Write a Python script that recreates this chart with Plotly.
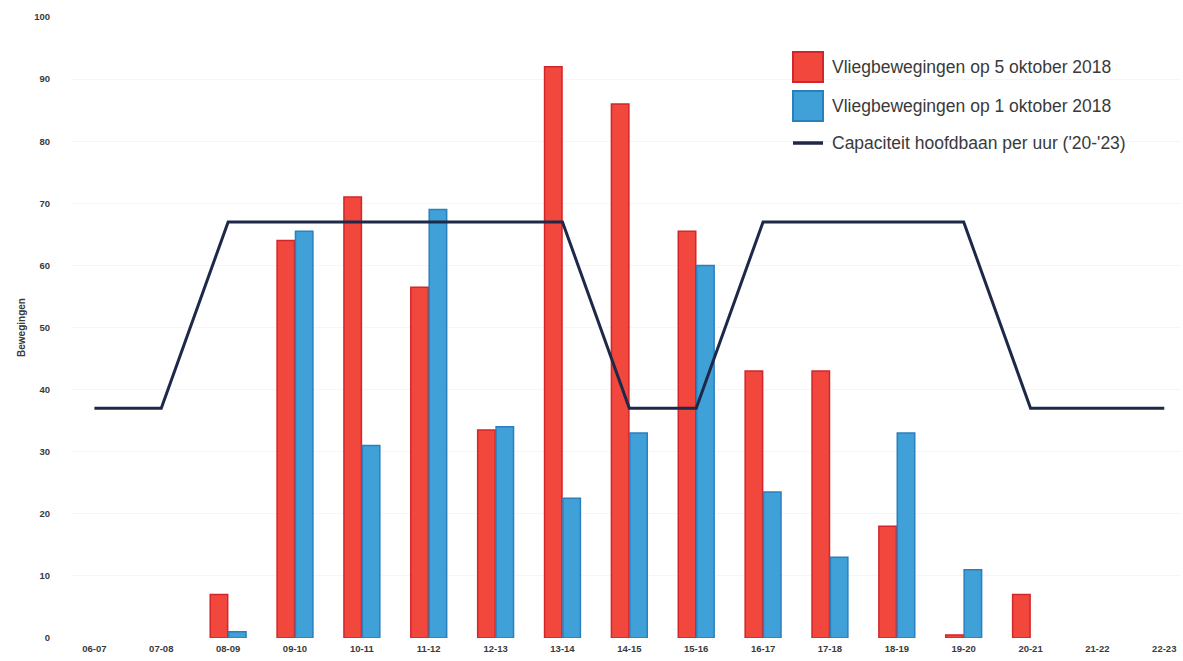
import plotly.graph_objects as go

# Hour slots on the x axis
uren = ["06-07", "07-08", "08-09", "09-10", "10-11", "11-12", "12-13", "13-14",
        "14-15", "15-16", "16-17", "17-18", "18-19", "19-20", "20-21", "21-22", "22-23"]

# Flight movements per hour
beweg_5okt = [None, None, 7, 64, 71, 56.5, 33.5, 92, 86, 65.5, 43, 43, 18, 0.5, 7, None, None]
beweg_1okt = [None, None, 1, 65.5, 31, 69, 34, 22.5, 33, 60, 23.5, 13, 33, 11, None, None, None]

# Main runway capacity per hour
capaciteit = [37, 37, 67, 67, 67, 67, 67, 67, 37, 37, 67, 67, 67, 67, 37, 37, 37]

naam_rood = "Vliegbewegingen op 5 oktober 2018"
naam_blauw = "Vliegbewegingen op 1 oktober 2018"
naam_lijn = "Capaciteit hoofdbaan per uur ('20-'23)"

ROOD, ROOD_RAND = "#f1473d", "#d3262a"
BLAUW, BLAUW_RAND = "#40a0d8", "#2b7fbd"
LIJN = "#1e2848"
TEKST = "#3a3a3a"

fig = go.Figure()
fig.add_trace(go.Bar(x=uren, y=beweg_5okt, name=naam_rood,
                     marker=dict(color=ROOD, line=dict(color=ROOD_RAND, width=1.5))))
fig.add_trace(go.Bar(x=uren, y=beweg_1okt, name=naam_blauw,
                     marker=dict(color=BLAUW, line=dict(color=BLAUW_RAND, width=1.5))))
fig.add_trace(go.Scatter(x=uren, y=capaciteit, name=naam_lijn, mode="lines",
                         line=dict(color=LIJN, width=3)))

# Legend drawn as large swatches with labels
legend_items = [("rect", ROOD, ROOD_RAND, naam_rood, 67),
                ("rect", BLAUW, BLAUW_RAND, naam_blauw, 106),
                ("line", LIJN, LIJN, naam_lijn, 143)]
for kind, fill, edge, label, yc in legend_items:
    if kind == "rect":
        fig.add_shape(type="rect", xref="paper", yref="paper",
                      x0=(793 - 71) / 1110, x1=(823 - 71) / 1110,
                      y0=(638 - (yc + 15)) / 621, y1=(638 - (yc - 15)) / 621,
                      fillcolor=fill, line=dict(color=edge, width=2))
    else:
        fig.add_shape(type="line", xref="paper", yref="paper",
                      x0=(793 - 71) / 1110, x1=(823 - 71) / 1110,
                      y0=(638 - yc) / 621, y1=(638 - yc) / 621,
                      line=dict(color=fill, width=3.5))
    fig.add_annotation(xref="paper", yref="paper", x=(830 - 71) / 1110, y=(638 - yc) / 621,
                       text=label, showarrow=False, xanchor="left", yanchor="middle",
                       font=dict(family="Liberation Sans, Arial", size=17.5, color=TEKST))

fig.update_layout(
    width=1183, height=661,
    margin=dict(l=71, r=2, t=17, b=23),
    paper_bgcolor="white", plot_bgcolor="white",
    barmode="group", bargap=0.45, bargroupgap=0.05,
    showlegend=False,
    font=dict(family="Liberation Sans, Arial", color=TEKST),
)
fig.update_xaxes(type="category", range=[-0.35, 16.25], showgrid=False, showline=False,
                 zeroline=False, ticks="", ticklabelstandoff=3,
                 tickfont=dict(size=9.5, weight="bold", color=TEKST))
fig.update_yaxes(range=[0, 100], dtick=10, showgrid=True, gridcolor="#f6f6f6",
                 zeroline=False, showline=False, ticks="", ticklabelstandoff=20,
                 tickfont=dict(size=9.5, weight="bold", color=TEKST),
                 title=dict(text="Bewegingen", standoff=6,
                            font=dict(size=10, weight="bold", color=TEKST)))

fig.write_html("out.html")
